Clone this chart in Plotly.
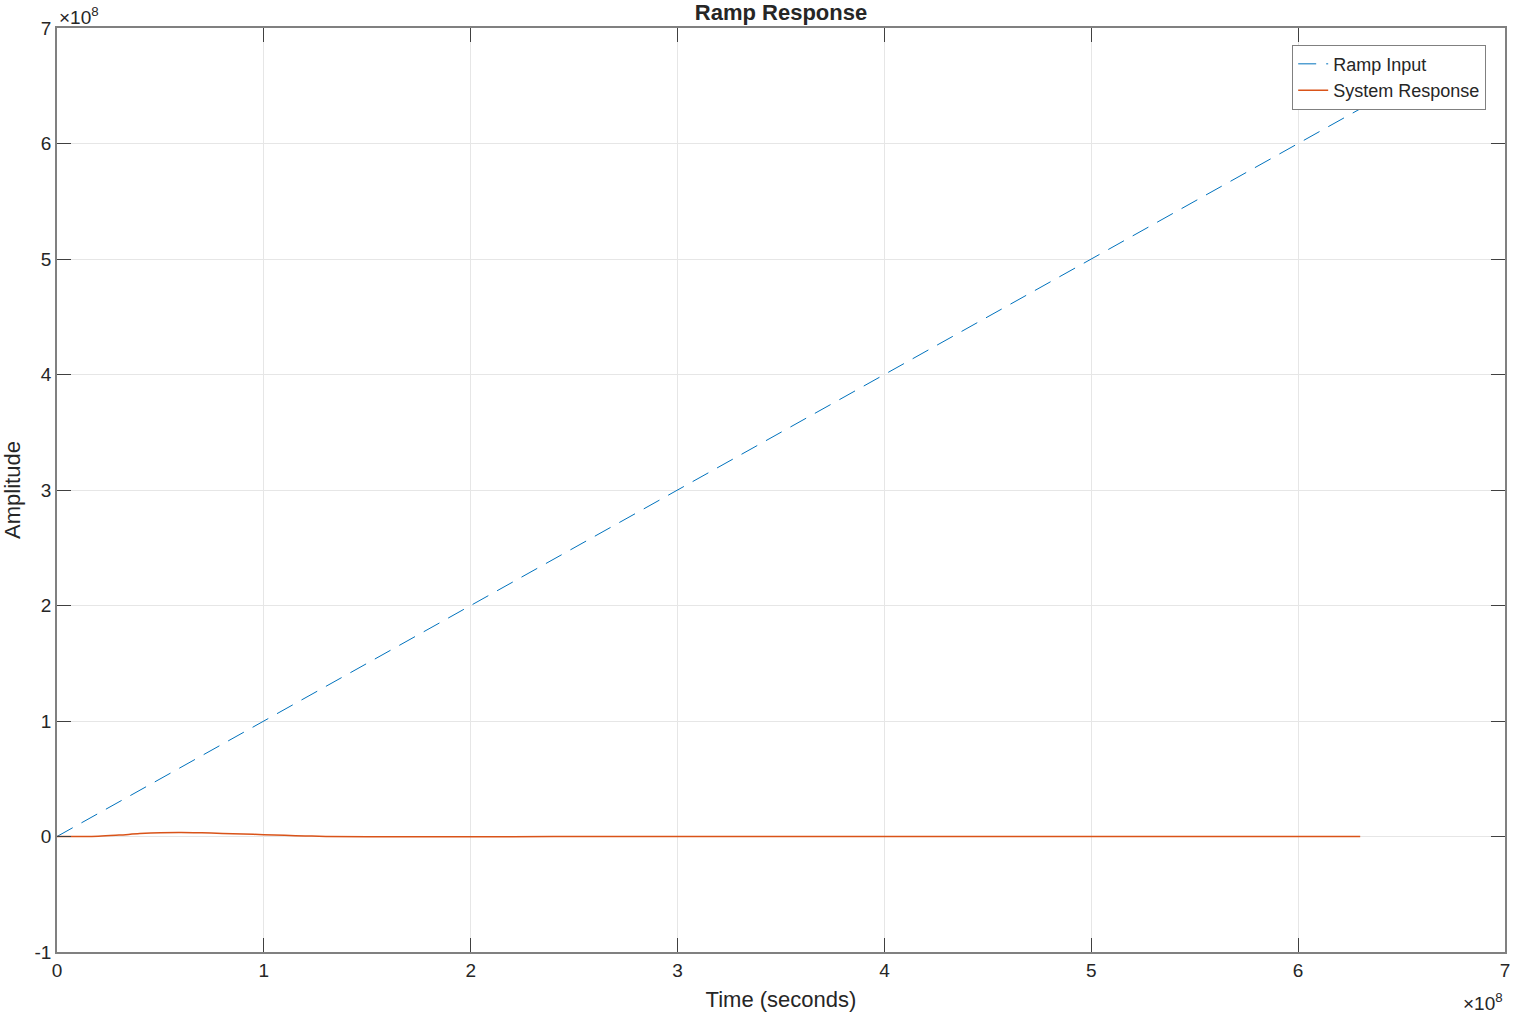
import plotly.graph_objects as go

# time axis (seconds) and signals
t_ramp = [0, 6.3e8]
ramp_input = [0, 6.3e8]

t_resp = [0, 0.1e8, 0.2e8, 0.3e8, 0.4e8, 0.5e8, 0.6e8, 0.7e8, 0.8e8, 0.9e8,
          1.0e8, 1.1e8, 1.2e8, 1.3e8, 1.5e8, 1.8e8, 2.2e8, 2.6e8, 3.0e8,
          4.0e8, 5.0e8, 6.3e8]
system_response = [0, 0, 0.002e8, 0.012e8, 0.025e8, 0.033e8, 0.035e8, 0.032e8,
                   0.027e8, 0.021e8, 0.016e8, 0.010e8, 0.005e8, 0.001e8,
                   -0.002e8, -0.003e8, -0.002e8, 0, 0.001e8, 0, 0, 0]

x_ticks = [i * 1e8 for i in range(8)]
x_labels = [str(i) for i in range(8)]
y_ticks = [i * 1e8 for i in range(-1, 8)]
y_labels = [str(i) for i in range(-1, 8)]

font = "Liberation Sans, Arial, sans-serif"
axis_col = "#262626"

fig = go.Figure()
fig.add_trace(go.Scatter(x=t_ramp, y=ramp_input, mode="lines", name="Ramp Input",
                         line=dict(color="#0072BD", width=1, dash="18px,10px")))
fig.add_trace(go.Scatter(x=t_resp, y=system_response, mode="lines", name="System Response",
                         line=dict(color="#D95319", width=1.5, shape="spline")))

axis_common = dict(showline=True, linecolor="#808080", linewidth=1.5, mirror="ticks",
                   ticks="inside", ticklen=14, tickcolor="#404040", tickwidth=1,
                   showgrid=True, gridcolor="#e6e6e6", gridwidth=1, zeroline=False,
                   tickfont=dict(family=font, size=19, color=axis_col))

fig.update_xaxes(range=[0, 7e8], tickvals=x_ticks, ticktext=x_labels,
                 title=dict(text="Time (seconds)", font=dict(family=font, size=22, color=axis_col),
                            standoff=12),
                 **axis_common)
fig.update_yaxes(range=[-1e8, 7e8], tickvals=y_ticks, ticktext=y_labels,
                 title=dict(text="Amplitude", font=dict(family=font, size=22, color=axis_col),
                            standoff=8),
                 **axis_common)

fig.update_layout(
    width=1515, height=1014,
    margin=dict(l=57, r=5, t=28, b=62),
    plot_bgcolor="white", paper_bgcolor="white",
    title=dict(text="<b>Ramp Response</b>", xref="paper", x=0.5, xanchor="center",
               y=0.988, yanchor="middle",
               font=dict(family=font, size=22, color=axis_col)),
    legend=dict(x=0.987, xanchor="right", y=0.982, yanchor="top",
                bgcolor="white", bordercolor="#808080", borderwidth=1,
                font=dict(family=font, size=18, color=axis_col),
                tracegroupgap=0, itemwidth=30),
    showlegend=True,
    annotations=[
        dict(text="×10<sup>8</sup>", xref="paper", yref="paper", x=0, y=1, xanchor="left",
             yanchor="bottom", yshift=-2, showarrow=False,
             font=dict(family=font, size=19, color=axis_col)),
        dict(text="×10<sup>8</sup>", xref="paper", yref="paper", x=1, y=0, xanchor="right",
             yanchor="top", yshift=-36, showarrow=False,
             font=dict(family=font, size=19, color=axis_col)),
    ],
)

# drop the default page margin / scrollbars so the figure sits at the window's corner
fig.write_html("out.html", config={"displayModeBar": False},
               post_script="document.body.style.margin='0';"
                           "document.body.style.overflow='hidden';")
